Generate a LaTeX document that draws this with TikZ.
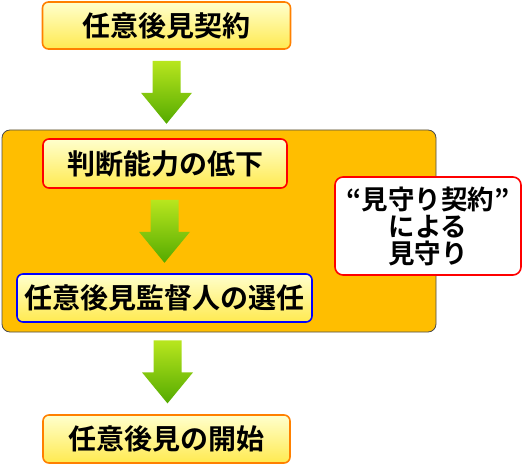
\documentclass[tikz,border=0pt]{standalone}
\usepackage{fontspec}
\usetikzlibrary{calc}
\newfontfamily\jp{Noto Sans CJK JP}[BoldFont={Noto Sans CJK JP Bold}]
\definecolor{boxtop}{RGB}{255,255,205}
\definecolor{boxbot}{RGB}{255,234,80}
\definecolor{edgeor}{RGB}{255,128,0}
\definecolor{frameor}{RGB}{255,190,0}
\definecolor{arrtop}{RGB}{184,230,30}
\definecolor{arrbot}{RGB}{84,170,0}
\begin{document}
\begin{tikzpicture}[x=1pt, y=1pt, font=\jp\bfseries\fontsize{28}{29}\selectfont,
  st/.style={rectangle, rounded corners=6pt, line width=1.6pt, top color=boxtop, bottom color=boxbot, inner sep=0pt, align=center},
  downarrow/.pic={\shade[top color=arrtop, bottom color=arrbot] (-14,0) -- (14,0) -- (14,-32) -- (25.5,-32) -- (0,-63) -- (-25.5,-32) -- (-14,-32) -- cycle;}]
\useasboundingbox (0,0) rectangle (530,-465);
\node[rectangle, rounded corners=8pt, draw=black!70, line width=0.8pt, fill=frameor, minimum width=434pt, minimum height=202pt] (frame) at (219,-231) {};
\node[st, draw=edgeor, minimum width=248pt, minimum height=47pt] (contract) at (166.5,-25.5) {任意後見契約};
\node[st, draw=red, minimum width=244pt, minimum height=49pt] (decline) at (165,-163.5) {判断能力の低下};
\node[st, draw=blue, minimum width=295pt, minimum height=48pt] (select) at (164.5,-298) {任意後見監督人の選任};
\node[st, draw=edgeor, minimum width=247pt, minimum height=48pt] (start) at (166.5,-439) {任意後見の開始};
\node[rectangle, rounded corners=8pt, draw=red, line width=1.6pt, fill=white, minimum width=186pt, minimum height=98pt, align=center, font=\jp\bfseries\fontsize{26.5}{27}\selectfont] (watch) at (428,-226) {“見守り契約”\\による\\見守り};
\pic at ($(contract.south)+(0,-11)$) {downarrow};
\pic at ($(decline.south)+(-0.5,-11)$) {downarrow};
\pic at ($(frame.south)+(-51.5,-8)$) {downarrow};
\end{tikzpicture}
\end{document}
